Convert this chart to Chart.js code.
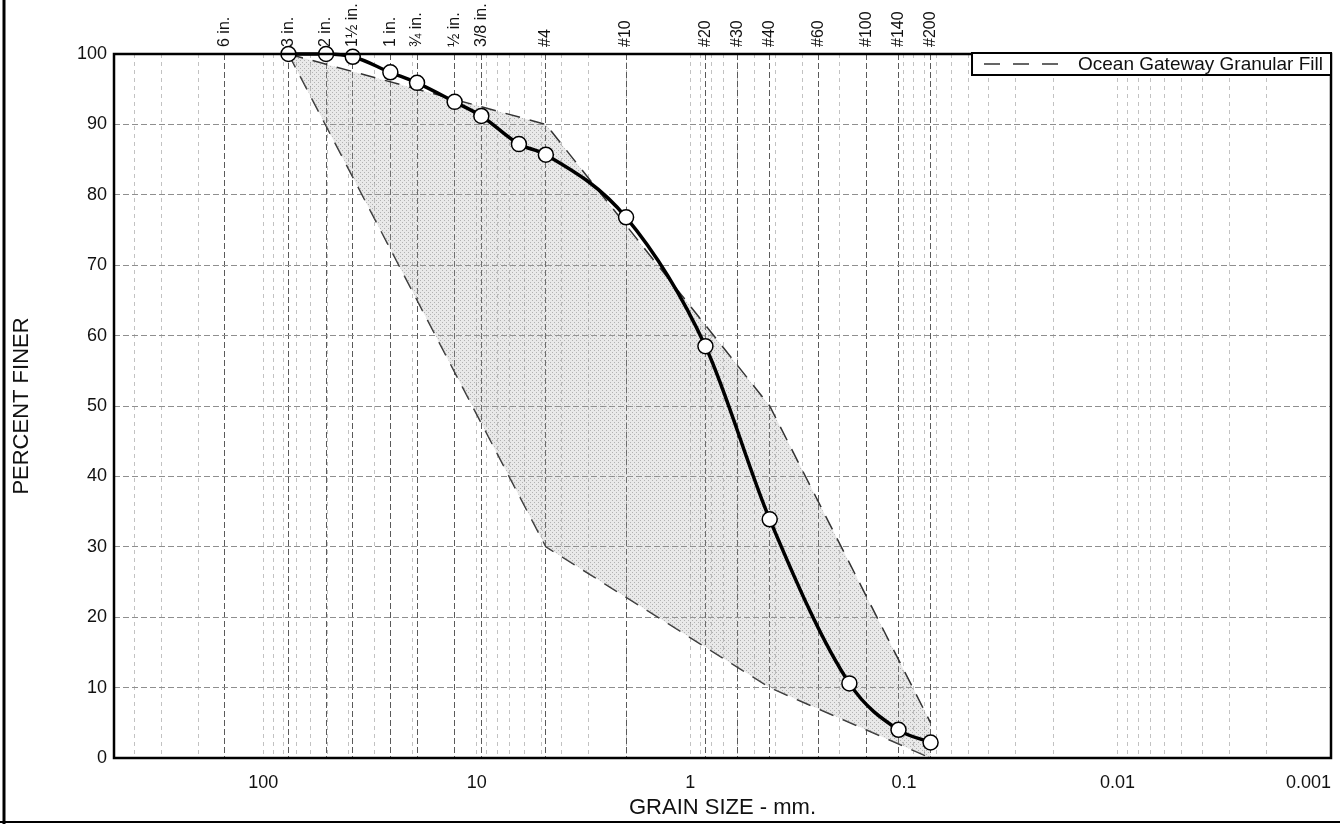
<!DOCTYPE html>
<html>
<head>
<meta charset="utf-8">
<script src="https://cdn.jsdelivr.net/npm/chart.js"></script>
<style>
  body { margin: 0; background: #fff; }
  #wrap { width: 1340px; height: 824px; }
</style>
</head>
<body>
<div id="wrap"><canvas id="gradation" width="1340" height="824"></canvas></div>
<script>
// sieve openings (mm) and their names along the top
const sieveSizes = [152.4, 76.2, 50.8, 38.1, 25.4, 19.05, 12.7, 9.525, 4.75, 2.0, 0.85, 0.6, 0.425, 0.25, 0.15, 0.106, 0.075];
const sieveLabels = ['6 in.', '3 in.', '2 in.', '1½ in.', '1 in.', '¾ in.', '½ in.', '3/8 in.', '#4', '#10', '#20', '#30', '#40', '#60', '#100', '#140', '#200'];

// labelled grain size ticks and percent ticks
const sizeTickValues = [100, 10, 1, 0.1, 0.01, 0.001];
const sizeTickLabels = ['100', '10', '1', '0.1', '0.01', '0.001'];
const percentTicks = [0, 10, 20, 30, 40, 50, 60, 70, 80, 90, 100];

// sample gradation (mm, percent finer)
const sampleSizes = [76.2, 50.8, 38.1, 25.4, 19.05, 12.7, 9.525, 6.35, 4.75, 2.0, 0.85, 0.425, 0.18, 0.106, 0.075];
const samplePercent = [100, 100, 99.6, 97.4, 95.9, 93.2, 91.2, 87.2, 85.7, 76.8, 58.5, 33.9, 10.6, 4.0, 2.2];

// Ocean Gateway Granular Fill band
const specSizes = [76.2, 4.75, 0.425, 0.075];
const specUpper = [100, 90, 50, 5];
const specLower = [100, 30, 10, 0];

const FONT = "'Liberation Sans', Arial, sans-serif";
Chart.defaults.font.family = FONT;
Chart.defaults.color = '#111';

// minor log grid: 1..9 x 10^n between 0.001 and 500
const minorGrid = [];
for (let e = -3; e <= 2; e++) {
  for (let m = 1; m <= 9; m++) {
    const v = m * Math.pow(10, e);
    if (v <= 500) minorGrid.push(v);
  }
}

const ctx = document.getElementById('gradation').getContext('2d');

// light stipple for the spec band
const stipple = document.createElement('canvas');
stipple.width = 4; stipple.height = 4;
const sctx = stipple.getContext('2d');
sctx.fillStyle = 'rgba(170,170,170,0.26)';
sctx.fillRect(0, 0, 4, 4);
sctx.fillStyle = 'rgba(110,110,110,0.45)';
sctx.fillRect(0, 0, 1, 1);
sctx.fillRect(2, 2, 1, 1);
const bandFill = ctx.createPattern(stipple, 'repeat');

const toPoints = (xs, ys) => xs.map((x, i) => ({ x: x, y: ys[i] }));

// frame round the plot, sieve names, page edge lines and the legend box
const decorations = {
  id: 'decorations',
  afterDraw(chart) {
    const c = chart.ctx;
    const a = chart.chartArea;
    c.save();
    c.strokeStyle = '#000';
    c.lineWidth = 2.5;
    c.strokeRect(a.left, a.top, a.right - a.left, a.bottom - a.top);

    // sieve names, read bottom to top, above the frame
    const top = chart.scales.x2;
    c.fillStyle = '#111';
    c.font = '16px ' + FONT;
    c.textAlign = 'left';
    c.textBaseline = 'middle';
    sieveSizes.forEach((v, i) => {
      c.save();
      c.translate(top.getPixelForValue(v), a.top - 7);
      c.rotate(-Math.PI / 2);
      c.fillText(sieveLabels[i], 0, 0);
      c.restore();
    });

    // page edges
    c.lineWidth = 3;
    c.beginPath();
    c.moveTo(4, 0); c.lineTo(4, 824);
    c.stroke();
    c.lineWidth = 2;
    c.beginPath();
    c.moveTo(0, 822); c.lineTo(1340, 822);
    c.stroke();

    // legend
    const ds = chart.data.datasets[0];
    c.font = '19px ' + FONT;
    const tw = c.measureText(ds.label).width;
    const w = 12 + 74 + 20 + tw + 8;
    const h = 22;
    const left = a.right - w, ltop = a.top - 1;
    c.fillStyle = '#fff';
    c.fillRect(left, ltop, w, h);
    c.lineWidth = 2;
    c.strokeRect(left, ltop, w, h);
    c.strokeStyle = ds.borderColor;
    c.lineWidth = 1.5;
    c.setLineDash([16, 13]);
    c.beginPath();
    c.moveTo(left + 12, ltop + h / 2);
    c.lineTo(left + 86, ltop + h / 2);
    c.stroke();
    c.setLineDash([]);
    c.fillStyle = '#111';
    c.textAlign = 'left';
    c.textBaseline = 'middle';
    c.fillText(ds.label, left + 106, ltop + h / 2 + 1);
    c.restore();
  }
};

const chart = new Chart(ctx, {
  type: 'line',
  data: {
    datasets: [
      {
        label: 'Ocean Gateway Granular Fill',
        data: toPoints(specSizes, specUpper),
        borderColor: '#333',
        borderWidth: 1.5,
        borderDash: [15, 10],
        pointRadius: 0,
        tension: 0,
        fill: '+1',
        backgroundColor: bandFill,
        order: 1,
        clip: false
      },
      {
        label: 'lower',
        data: toPoints(specSizes, specLower),
        borderColor: '#333',
        borderWidth: 1.5,
        borderDash: [15, 10],
        pointRadius: 0,
        tension: 0,
        fill: false,
        order: 2,
        clip: false
      },
      {
        label: 'Sample',
        data: toPoints(sampleSizes, samplePercent),
        borderColor: '#000',
        borderWidth: 3.5,
        cubicInterpolationMode: 'monotone',
        pointRadius: 7.5,
        pointBackgroundColor: '#fff',
        pointBorderColor: '#000',
        pointBorderWidth: 1.5,
        fill: false,
        order: 0,
        clip: false
      }
    ]
  },
  options: {
    responsive: false,
    devicePixelRatio: 1,
    animation: false,
    events: [],
    layout: { padding: { left: 0, right: 7, top: 0, bottom: 0 } },
    plugins: {
      legend: { display: false },
      tooltip: { enabled: false }
    },
    scales: {
      x: {
        type: 'logarithmic',
        position: 'bottom',
        reverse: true,
        min: 0.001,
        max: 500,
        afterBuildTicks: s => { s.ticks = minorGrid.map(v => ({ value: v })); },
        afterFit: s => { s.height = 66; },
        grid: { color: '#c2c2c2', lineWidth: 1, drawTicks: false },
        border: { display: false, dash: [4, 4] },
        ticks: {
          autoSkip: false,
          maxRotation: 0,
          align: 'inner',
          padding: 14,
          font: { size: 18 },
          color: '#111',
          callback: v => {
            const i = sizeTickValues.findIndex(t => Math.abs(t - v) < t * 1e-6);
            return i < 0 ? '' : sizeTickLabels[i];
          }
        },
        title: {
          display: true,
          text: 'GRAIN SIZE - mm.',
          font: { size: 22 },
          color: '#111',
          padding: { top: 0, bottom: 3 }
        }
      },
      x2: {
        type: 'logarithmic',
        position: 'top',
        reverse: true,
        min: 0.001,
        max: 500,
        afterBuildTicks: s => { s.ticks = sieveSizes.map(v => ({ value: v })); },
        afterFit: s => { s.height = 54; },
        grid: { color: '#5a5a5a', lineWidth: 1, drawTicks: false },
        border: { display: false, dash: [6, 3] },
        ticks: { display: false }
      },
      y: {
        type: 'linear',
        min: 0,
        max: 100,
        afterBuildTicks: s => { s.ticks = percentTicks.map(v => ({ value: v })); },
        afterFit: s => { s.width = 114; },
        grid: { color: '#8f8f8f', lineWidth: 1, drawTicks: false },
        border: { display: false, dash: [6, 3] },
        ticks: { padding: 7, font: { size: 18 }, color: '#111' },
        title: {
          display: true,
          text: 'PERCENT FINER',
          font: { size: 22 },
          color: '#111',
          padding: { top: 9, bottom: 0 }
        }
      }
    }
  },
  plugins: [decorations]
});
</script>
</body>
</html>
